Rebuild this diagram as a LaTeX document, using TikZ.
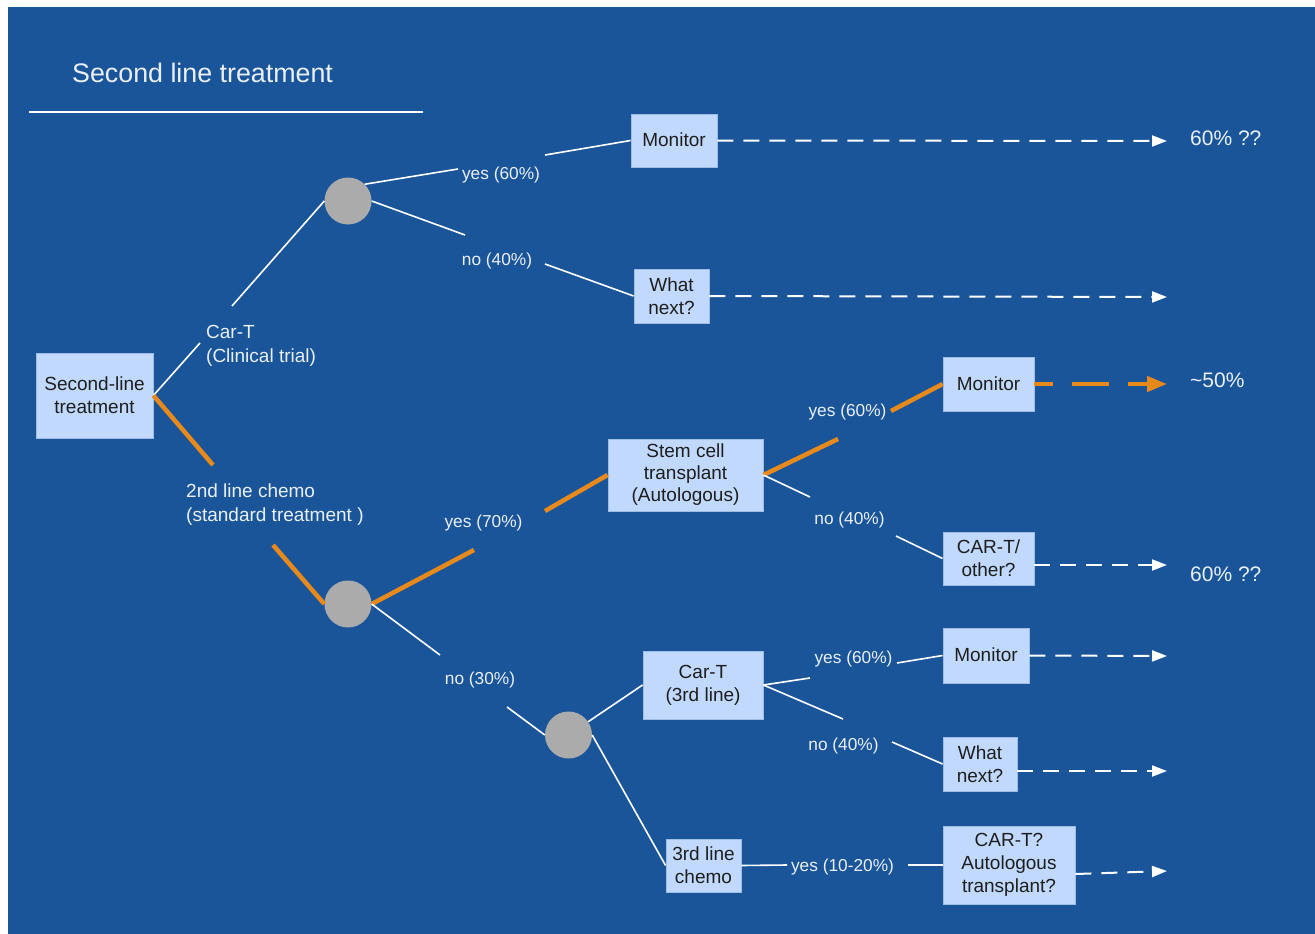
\documentclass[tikz,border=0pt]{standalone}
\usepackage{fontspec}
\setmainfont{Liberation Sans}
\usetikzlibrary{arrows.meta}
\definecolor{bg}{HTML}{1A5599}
\definecolor{boxfill}{HTML}{C0D9FC}
\definecolor{boxline}{HTML}{9DBCE6}
\definecolor{chance}{HTML}{ABABAB}
\definecolor{orng}{HTML}{E8891C}
\definecolor{txt}{HTML}{1E1E1E}
\definecolor{lbltxt}{HTML}{EAF0F8}
\begin{document}
\begin{tikzpicture}[x=1pt,y=-1pt,
  box/.style={draw=boxline, line width=0.8pt, fill=boxfill, text=txt, align=center, inner sep=0pt, font=\fontsize{19}{23}\selectfont},
  chancenode/.style={circle, fill=chance, minimum size=47pt, inner sep=0pt},
  lbl/.style={text=lbltxt, font=\fontsize{17.3}{23}\selectfont, inner sep=0pt, yshift=-2pt},
  side/.style={text=lbltxt, font=\fontsize{19}{24}\selectfont, align=left, inner sep=0pt, anchor=west, yshift=-2.5pt},
  edge/.style={draw=white, line width=1.6pt},
  hot/.style={draw=orng, line width=4.5pt},
  dashw/.style={draw=white, line width=2pt, dash pattern=on 16pt off 10pt, -{Triangle[length=15pt,width=11pt]}},
  dasho/.style={draw=orng, line width=4.5pt, dash pattern=on 37pt off 19pt, dash phase=18pt, -{Triangle[length=20pt,width=15pt]}},
  outc/.style={text=lbltxt, font=\fontsize{21}{24}\selectfont, anchor=west, inner sep=0pt},
]
\useasboundingbox (0,0) rectangle (1315,934);
\fill[white] (0,0) rectangle (1315,934);
\fill[bg] (8,7) rectangle (1315,934);

% title
\node[anchor=west, text=lbltxt, font=\fontsize{26.8}{30}\selectfont, inner sep=0pt] (title) at (72,73) {Second line treatment};
\coordinate (ul1) at (29,112);
\coordinate (ul2) at (423,112);
\draw[white, line width=1.5pt] (ul1) -- (ul2);

% boxes
\node[box, minimum width=117pt, minimum height=85pt] (root) at (94.5,395.5) {Second-line\\treatment};
\node[chancenode] (c1) at (348,201) {};
\node[chancenode] (c2) at (348,604) {};
\node[chancenode] (c3) at (568.5,735) {};
\node[box, minimum width=86pt, minimum height=53pt] (mon1) at (674,140.5) {\raisebox{1.5pt}{Monitor}};
\node[box, minimum width=75pt, minimum height=54pt] (wn1) at (671.5,296) {What\\next?};
\node[box, minimum width=155pt, minimum height=72pt] (stem) at (685.5,475) {\raisebox{-2.5pt}{\begin{tabular}{@{}c@{}}Stem cell\\[-1pt]transplant\\[-1pt](Autologous)\end{tabular}}};
\node[box, minimum width=91pt, minimum height=54pt] (mon2) at (988.5,384) {Monitor};
\node[box, minimum width=91pt, minimum height=53pt] (cart1) at (988.5,558.5) {CAR-T/\\other?};
\node[box, minimum width=120pt, minimum height=68pt] (cart3) at (703,685) {Car-T\\(3rd line)};
\node[box, minimum width=86pt, minimum height=55pt] (mon3) at (986,655.5) {\raisebox{1.5pt}{Monitor}};
\node[box, minimum width=74pt, minimum height=54pt] (wn2) at (980,764) {What\\next?};
\node[box, minimum width=75pt, minimum height=53pt] (chemo3) at (703.5,865.5) {3rd line\\chemo};
\node[box, minimum width=132pt, minimum height=78pt] (cart2) at (1009,865) {CAR-T?\\Autologous\\transplant?};

% gap coordinates
\coordinate (g1a) at (200,343); \coordinate (g1b) at (232,306);
\coordinate (g2a) at (213,465); \coordinate (g2b) at (273,545);
\coordinate (g3a) at (458,169); \coordinate (g3b) at (545,155);
\coordinate (g4a) at (465,235); \coordinate (g4b) at (545,264);
\coordinate (g5a) at (474,550); \coordinate (g5b) at (545,511);
\coordinate (g6a) at (440,655); \coordinate (g6b) at (507,707);
\coordinate (g7a) at (838,439); \coordinate (g7b) at (891,411);
\coordinate (g8a) at (810,497); \coordinate (g8b) at (896,536);
\coordinate (g11a) at (810,678); \coordinate (g11b) at (897,663);
\coordinate (g12a) at (843,719); \coordinate (g12b) at (892,742);
\coordinate (g13a) at (787,865); \coordinate (g13b) at (908,865);

% edges
\draw[edge] (root.east) -- (g1a);
\draw[edge] (g1b) -- (c1.west);
\draw[hot] (root.east) -- (g2a);
\draw[hot] (g2b) -- (c2.west);
\draw[edge] (c1.north east) -- (g3a);
\draw[edge] (g3b) -- (mon1.west);
\draw[edge] (c1.east) -- (g4a);
\draw[edge] (g4b) -- (wn1.west);
\draw[hot] (c2.east) -- (g5a);
\draw[hot] (g5b) -- (stem.west);
\draw[edge] (c2.east) -- (g6a);
\draw[edge] (g6b) -- (c3.west);
\draw[hot] (stem.east) -- (g7a);
\draw[hot] (g7b) -- (mon2.west);
\draw[edge] (stem.east) -- (g8a);
\draw[edge] (g8b) -- (cart1.west);
\draw[edge] (c3) -- (cart3.west);
\draw[edge] (c3.east) -- (chemo3.west);
\draw[edge] (cart3.east) -- (g11a);
\draw[edge] (g11b) -- (mon3.west);
\draw[edge] (cart3.east) -- (g12a);
\draw[edge] (g12b) -- (wn2.west);
\draw[edge] (chemo3.east) -- (g13a);
\draw[edge] (g13b) -- (cart2.west);

% labels
\node[side] (lcart) at (206,343) {Car-T\\(Clinical trial)};
\node[side] (lchemo) at (186,502.5) {2nd line chemo\\(standard treatment )};
\node[lbl] (l3) at (501,173) {yes (60\%)};
\node[lbl] (l4) at (497,259) {no (40\%)};
\node[lbl] (l5) at (483.5,521) {yes (70\%)};
\node[lbl] (l6) at (480,678) {no (30\%)};
\node[lbl] (l7) at (847.5,410) {yes (60\%)};
\node[lbl] (l8) at (849.5,518) {no (40\%)};
\node[lbl] (l11) at (853.5,657) {yes (60\%)};
\node[lbl] (l12) at (843.5,744) {no (40\%)};
\node[lbl] (l13) at (842.5,865) {yes (10-20\%)};

% dashed outcome arrows
\coordinate (e1) at (1167,141);
\coordinate (e2) at (1167,297);
\coordinate (e3) at (1167,384);
\coordinate (e4) at (1167,565);
\coordinate (e5) at (1167,656);
\coordinate (e6) at (1167,771);
\coordinate (e7) at (1167,871);
\draw[dashw] (mon1.east) -- (e1);
\draw[dashw] (wn1.east) -- (e2);
\draw[dasho] (mon2.east) -- (e3);
\draw[dashw] ([yshift=-6.5pt]cart1.east) -- (e4);
\draw[dashw] (mon3.east) -- (e5);
\draw[dashw] ([yshift=-7pt]wn2.east) -- (e6);
\draw[dashw] ([yshift=-9pt]cart2.east) -- (e7);

% outcomes
\node[outc] (o1) at (1190,138) {60\% ??};
\node[outc] (o2) at (1190,380) {\textasciitilde 50\%};
\node[outc] (o3) at (1190,574) {60\% ??};
\end{tikzpicture}
\end{document}
